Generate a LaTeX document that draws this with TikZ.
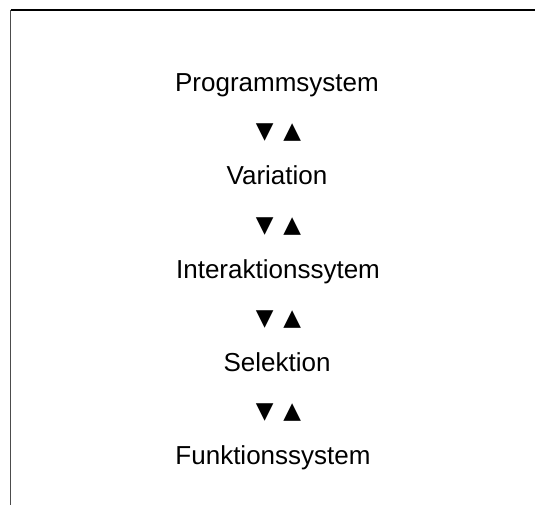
\documentclass[tikz,border=0pt]{standalone}
\usepackage{fontspec}
\setmainfont{Liberation Sans}
\newfontfamily\symfont{DejaVu Sans}
\usepackage{tikz}

\begin{document}
\begin{tikzpicture}[x=1pt,y=1pt]

      \tikzset{stage/.style = {anchor=base,inner sep=0pt,font=\fontsize{26}{30}\selectfont}}
      \tikzset{updown/.style = {anchor=base,inner sep=0pt,font=\symfont\fontsize{23}{27}\selectfont}}
      \useasboundingbox (0,0) rectangle (535,505);
      % frame
      \coordinate (fbl) at (10.5,0);
      \coordinate (ftl) at (10.5,495);
      \coordinate (ftr) at (535,495);
      \draw[line width=1.8pt,black!70] (fbl) -- (ftl);
      \draw[line width=1.3pt] (ftl) -- (ftr);
      % stages
      \node[stage] (prog) at (277,413.3) {Programmsystem};
      \node[stage] (var)  at (277,320)   {Variation};
      \node[stage] (inter) at (278,226.5) {Interaktionssytem};
      \node[stage] (sel)  at (277,133)   {Selektion};
      \node[stage] (funk) at (273,40)    {Funktionssystem};
      % up and down
      \node[updown] (ud1) at (278.5,366) {▼\hspace{10pt}▲};
      \node[updown] (ud2) at (278.5,272.5) {▼\hspace{10pt}▲};
      \node[updown] (ud3) at (278.5,179) {▼\hspace{10pt}▲};
      \node[updown] (ud4) at (278.5,86) {▼\hspace{10pt}▲};
\end{tikzpicture}
\end{document}
